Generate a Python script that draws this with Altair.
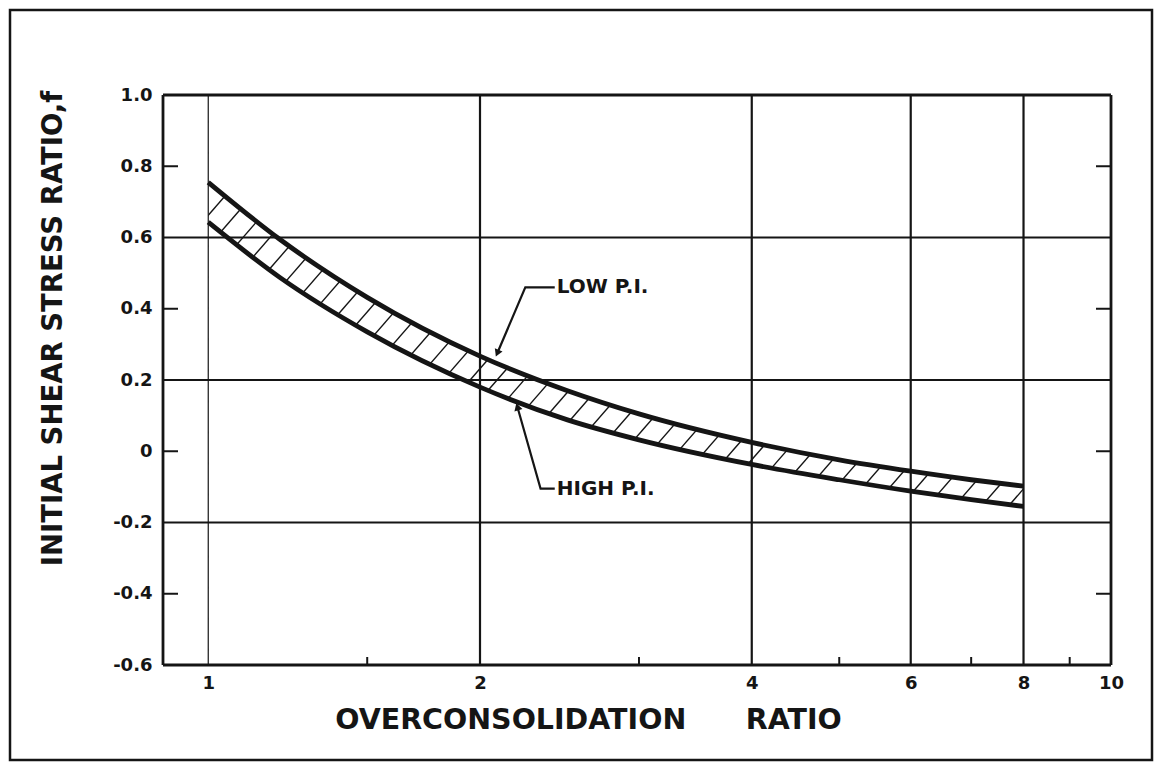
import altair as alt
import numpy as np
import pandas as pd

# ---- values ----
ocr = [1.0, 1.2, 1.5, 2.0, 2.5, 3.0, 4.0, 5.0, 6.0, 7.0, 8.0]
low_pi = [0.755, 0.595, 0.432, 0.267, 0.170, 0.105, 0.025, -0.024, -0.056, -0.080, -0.098]
high_pi = [0.643, 0.488, 0.335, 0.180, 0.088, 0.032, -0.037, -0.080, -0.112, -0.136, -0.155]

x_ticks = [1, 2, 4, 6, 8, 10]
y_ticks = [-0.6, -0.4, -0.2, 0.0, 0.2, 0.4, 0.6, 0.8, 1.0]
h_grid = [0.6, 0.2, -0.2]
v_grid = [2, 4, 6, 8]
minor_x = [1.5, 3, 5, 7, 9]
side_ticks = [0.8, 0.4, 0.0, -0.4]

labels = ["LOW P.I.", "HIGH P.I."]
label_x = [2.42, 2.42]
label_y = [0.46, -0.105]
leader_x = [2.42, 2.245, 2.09, 2.42, 2.334, 2.20]
leader_y = [0.46, 0.46, 0.275, -0.105, -0.105, 0.125]
leader_g = ["low", "low", "low", "high", "high", "high"]
arrow_x = [2.09, 2.20]
arrow_y = [0.275, 0.125]
arrow_angle = [203, 343]

X_DOMAIN = [0.891, 10]
Y_DOMAIN = [-0.6, 1.0]
INK = "#151515"
FONT = "DejaVu Sans"
W, H = 948, 570

xs = alt.Scale(type="log", domain=X_DOMAIN, nice=False)
ys = alt.Scale(domain=Y_DOMAIN, nice=False, zero=False)

y_label_expr = ("datum.value == 0 ? '0' : (datum.value < 0 ? '-' + format(-datum.value, '.1f') "
                ": format(datum.value, '.1f'))")
x_axis = alt.Axis(
    values=x_ticks, format="d", grid=False, domain=False, ticks=False,
    labelFont=FONT, labelFontSize=18, labelFontWeight="bold", labelColor=INK,
    labelPadding=9, labelFlush=False, labelOverlap=False,
    title="OVERCONSOLIDATION\u00a0\u00a0\u00a0\u00a0\u00a0\u00a0RATIO",
    titleFont=FONT, titleFontSize=28.5, titleFontWeight="bold", titleColor=INK,
    titleX=425, titleY=63, titleBaseline="alphabetic")
y_axis = alt.Axis(
    values=y_ticks, labelExpr=y_label_expr, grid=False, domain=False, ticks=False,
    labelFont=FONT, labelFontSize=18, labelFontWeight="bold", labelColor=INK,
    labelPadding=11, labelFlush=False, labelOverlap=False,
    title="INITIAL SHEAR STRESS RATIO,f",
    titleFont=FONT, titleFontSize=27.5, titleFontWeight="bold", titleColor=INK,
    titleX=-102, titleY=233, titleBaseline="alphabetic")


def X(f="x"):
    return alt.X(f"{f}:Q", scale=xs, axis=x_axis)


def Y(f="y"):
    return alt.Y(f"{f}:Q", scale=ys, axis=y_axis)


# ---- hatching: parallel strokes, masked outside the band afterwards ----
x0 = 0.3 * 1.0713 ** np.arange(46)
hatch = pd.DataFrame({"x": x0, "x2": x0 * 3.54, "y": Y_DOMAIN[0], "y2": Y_DOMAIN[1]})
hatch_layer = alt.Chart(hatch).mark_rule(clip=True, stroke=INK, strokeWidth=1.4).encode(
    x=X(), x2="x2:Q", y=Y(), y2="y2:Q"
)

band = pd.DataFrame({"x": ocr, "hi": low_pi, "lo": high_pi,
                     "top": Y_DOMAIN[1], "bot": Y_DOMAIN[0]})
mask_above = alt.Chart(band).mark_area(fill="white", interpolate="monotone", clip=True).encode(
    x=X(), y=Y("hi"), y2="top:Q"
)
mask_below = alt.Chart(band).mark_area(fill="white", interpolate="monotone", clip=True).encode(
    x=X(), y=Y("lo"), y2="bot:Q"
)
side = pd.DataFrame({"x": [X_DOMAIN[0], ocr[-1]], "x2": [ocr[0], X_DOMAIN[1]],
                     "y": Y_DOMAIN[0], "y2": Y_DOMAIN[1]})
mask_sides = alt.Chart(side).mark_rect(fill="white", clip=True).encode(
    x=X(), x2="x2:Q", y=Y(), y2="y2:Q"
)

# ---- grid, frame, ticks ----
hgrid = alt.Chart(pd.DataFrame({"y": h_grid})).mark_rule(stroke=INK, strokeWidth=2).encode(y=Y())
vgrid = alt.Chart(pd.DataFrame({"x": v_grid})).mark_rule(stroke=INK, strokeWidth=2.2).encode(x=X())
vgrid1 = alt.Chart(pd.DataFrame({"x": [x_ticks[0]]})).mark_rule(stroke=INK, strokeWidth=1.2).encode(x=X())
frame_h = alt.Chart(pd.DataFrame({"y": Y_DOMAIN})).mark_rule(stroke=INK, strokeWidth=2.8).encode(y=Y())
frame_v = alt.Chart(pd.DataFrame({"x": X_DOMAIN})).mark_rule(stroke=INK, strokeWidth=2.8).encode(x=X())

st = pd.DataFrame({"y": side_ticks})
ticks_left = alt.Chart(st).mark_rule(stroke=INK, strokeWidth=2).encode(
    y=Y(), x=alt.value(0), x2=alt.value(15))
ticks_right = alt.Chart(st).mark_rule(stroke=INK, strokeWidth=2).encode(
    y=Y(), x=alt.value(W - 15), x2=alt.value(W))
ticks_bottom = alt.Chart(pd.DataFrame({"x": minor_x})).mark_rule(stroke=INK, strokeWidth=2).encode(
    x=X(), y=alt.value(H), y2=alt.value(H - 8))

# ---- curves ----
n = len(ocr)
curves = pd.DataFrame({
    "x": ocr * 2,
    "y": low_pi + high_pi,
    "s": [labels[0]] * n + [labels[1]] * n,
    "o": list(range(n)) * 2,
})
curve_layer = alt.Chart(curves).mark_line(
    interpolate="monotone", stroke=INK, strokeWidth=4.8
).encode(x=X(), y=Y(), detail="s:N", order="o:Q")

# ---- annotations ----
leaders = pd.DataFrame({"x": leader_x, "y": leader_y, "g": leader_g, "o": list(range(6))})
leader_layer = alt.Chart(leaders).mark_line(stroke=INK, strokeWidth=2.2).encode(
    x=X(), y=Y(), detail="g:N", order="o:Q")
arrows = pd.DataFrame({"x": arrow_x, "y": arrow_y, "a": arrow_angle})
arrow_layer = alt.Chart(arrows).mark_point(
    shape="triangle-up", filled=True, size=70, color=INK, opacity=1
).encode(x=X(), y=Y(), angle=alt.Angle("a:Q", scale=None))
text_layer = alt.Chart(pd.DataFrame({"x": label_x, "y": label_y, "t": labels})).mark_text(
    align="left", baseline="middle", font=FONT, fontSize=20, fontWeight="bold", color=INK, dx=2
).encode(x=X(), y=Y(), text="t:N")

border = alt.Chart(pd.DataFrame({"a": [0]})).mark_rect(
    filled=False, stroke=INK, strokeWidth=2.5
).encode(x=alt.value(-153), x2=alt.value(989), y=alt.value(-85), y2=alt.value(665))

chart = alt.layer(
    hatch_layer, mask_above, mask_below, mask_sides,
    hgrid, vgrid, vgrid1, frame_h, frame_v,
    ticks_left, ticks_right, ticks_bottom,
    curve_layer, leader_layer, arrow_layer, text_layer, border,
).properties(
    width=W, height=H,
    autosize=alt.AutoSizeParams(type="none"),
    padding={"left": 155, "top": 87, "right": 43, "bottom": 98},
    background="white",
).configure_view(strokeOpacity=0)

chart.save("out.html", embed_options={"renderer": "svg", "actions": False})
